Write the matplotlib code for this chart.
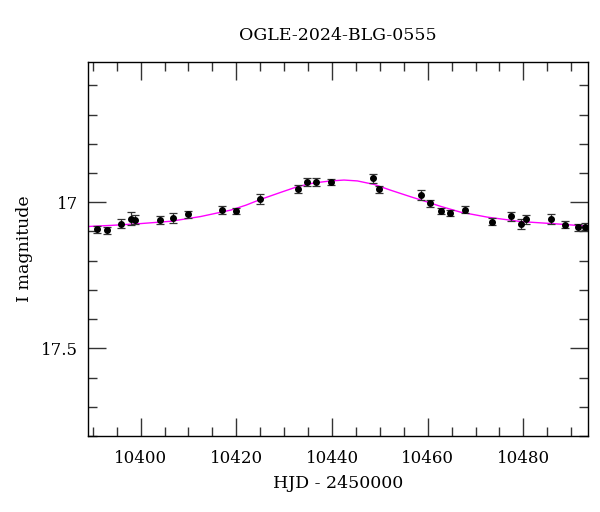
import numpy as np
import matplotlib.pyplot as plt
from matplotlib.ticker import MultipleLocator, FuncFormatter

# photometry
hjd = [10390.8, 10392.9, 10395.8, 10397.9, 10398.9, 10404.0, 10406.8, 10409.8,
       10416.9, 10419.9, 10424.9, 10432.8, 10434.7, 10436.7, 10439.8, 10448.6,
       10449.8, 10458.5, 10460.5, 10462.7, 10464.7, 10467.8, 10473.5, 10477.5,
       10479.5, 10480.5, 10485.8, 10488.6, 10491.4, 10492.8]
mag = [17.093, 17.095, 17.073, 17.056, 17.060, 17.062, 17.054, 17.041,
       17.027, 17.029, 16.990, 16.955, 16.930, 16.932, 16.932, 16.918,
       16.955, 16.975, 17.004, 17.029, 17.037, 17.025, 17.066, 17.048,
       17.075, 17.059, 17.057, 17.077, 17.086, 17.083]
err = [0.012, 0.012, 0.016, 0.022, 0.016, 0.014, 0.018, 0.012,
       0.014, 0.011, 0.017, 0.013, 0.014, 0.014, 0.010, 0.016,
       0.012, 0.016, 0.012, 0.011, 0.011, 0.013, 0.012, 0.015,
       0.018, 0.017, 0.017, 0.012, 0.013, 0.013]

# model curve
model_t = [10389.0, 10394.0, 10400.0, 10406.3, 10412.5, 10418.8, 10422.0,
           10425.1, 10429.3, 10432.7, 10436.2, 10439.7, 10442.5, 10445.3,
           10448.8, 10452.3, 10456.4, 10459.5, 10462.7, 10466.9, 10472.5,
           10479.4, 10487.8, 10493.5]
model_m = [17.083, 17.079, 17.073, 17.065, 17.049, 17.027, 17.010,
           16.990, 16.966, 16.947, 16.934, 16.927, 16.924, 16.927,
           16.939, 16.959, 16.981, 16.997, 17.014, 17.034, 17.051,
           17.066, 17.075, 17.082]

plt.rcParams['font.family'] = ['DejaVu Serif']

fig = plt.figure(figsize=(6, 5.12), dpi=100)
ax = fig.add_axes([0.1467, 0.1484, 0.8333, 0.7305])

ax.plot(model_t, model_m, color='#ff00ff', linewidth=1.0, zorder=1)
ax.errorbar(hjd, mag, yerr=err, fmt='o', color='black', markersize=4,
            ecolor='#333333', elinewidth=0.9, capsize=3, capthick=0.9, zorder=2)

ax.set_xlim(10389.0, 10493.5)
ax.set_ylim(17.8, 16.52)

ax.xaxis.set_major_locator(MultipleLocator(20))
ax.xaxis.set_minor_locator(MultipleLocator(5))
ax.yaxis.set_major_locator(MultipleLocator(0.5))
ax.yaxis.set_minor_locator(MultipleLocator(0.1))
ax.yaxis.set_major_formatter(FuncFormatter(lambda v, p: '%g' % v))

ax.tick_params(which='both', direction='in', top=True, right=True,
               color='#333333', labelsize=12)
ax.tick_params(which='major', length=13, width=1.0)
ax.tick_params(axis='x', which='major', pad=10)
ax.tick_params(axis='y', which='major', pad=7)
ax.tick_params(which='minor', length=6.5, width=1.0)
for s in ax.spines.values():
    s.set_linewidth(1.0)

ax.set_title('OGLE-2024-BLG-0555', fontsize=12.5, pad=16)
ax.set_xlabel('HJD - 2450000', fontsize=12.5, labelpad=6)
ax.set_ylabel('I magnitude', fontsize=12.5, labelpad=6)

plt.savefig('out.png', dpi=100)
